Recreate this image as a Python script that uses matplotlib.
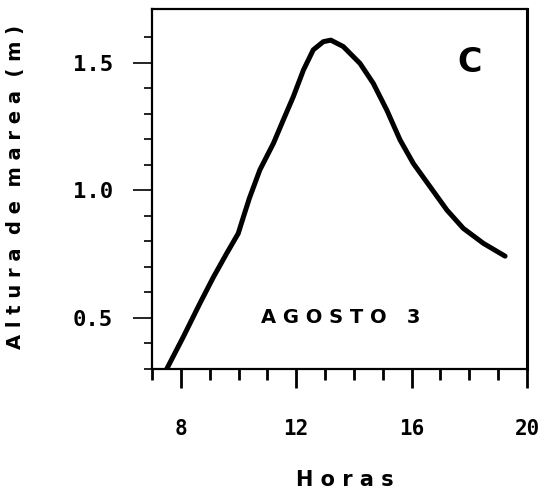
import matplotlib
matplotlib.use("Agg")
import matplotlib.pyplot as plt
import numpy as np

# marea - agosto 3
horas = [7.51, 8.09, 8.66, 9.13, 9.59, 9.99, 10.17, 10.38, 10.74, 11.21, 11.55,
         11.90, 12.25, 12.59, 12.94, 13.2, 13.63, 14.21, 14.67, 15.14, 15.60,
         16.06, 16.64, 17.22, 17.79, 18.49, 19.24]
altura = [0.30, 0.427, 0.557, 0.66, 0.753, 0.831, 0.896, 0.97, 1.08, 1.184, 1.275,
          1.367, 1.471, 1.55, 1.582, 1.588, 1.563, 1.497, 1.419, 1.314, 1.197,
          1.105, 1.014, 0.923, 0.851, 0.792, 0.742]
xticks = [8, 12, 16, 20]
yticks = [0.5, 1.0, 1.5]
ylabels = ["0.5", "1.0", "1.5"]

fig = plt.figure(figsize=(5.4, 4.94), dpi=100)
ax = fig.add_axes([152/540, 1-369/494, 375/540, 360/494])

ax.plot(horas, altura, color="black", lw=3.6, solid_capstyle="round",
        solid_joinstyle="round")

ax.set_xlim(7, 20)
ax.set_ylim(0.3, 1.71)

ax.set_xticks(xticks)
ax.set_xticklabels([str(t) for t in xticks], family="DejaVu Sans Mono",
                   fontsize=15, fontweight="bold")
ax.set_xticks(np.arange(7, 20, 1), minor=True)
ax.set_yticks(yticks)
ax.set_yticklabels(ylabels, family="DejaVu Sans Mono", fontsize=16,
                   fontweight="bold")
ax.set_yticks(np.arange(0.3, 1.65, 0.1), minor=True)

ax.tick_params(axis="x", which="major", direction="out", length=14, width=2, pad=22)
ax.tick_params(axis="x", which="minor", direction="out", length=8, width=2)
ax.tick_params(axis="y", which="major", direction="out", length=14, width=1.2, pad=14)
ax.tick_params(axis="y", which="minor", direction="out", length=6, width=1.2)

for s in ax.spines.values():
    s.set_linewidth(1.6)
ax.spines["right"].set_linewidth(2.2)

ax.text(18.0, 1.5, "C", fontsize=24, fontweight="bold", ha="center", va="center")
ax.text(13.55, 0.5, "A G O S T O   3", fontsize=14, fontweight="bold",
        ha="center", va="center")

fig.text(345/540, 1-480/494, "H o r a s", fontsize=15, fontweight="bold",
         ha="center", va="center")
fig.text(16/540, 1-187/494, "A l t u r a  d e  m a r e a  ( m )",
         fontsize=14, fontweight="bold", rotation=90, ha="center", va="center")

fig.savefig("out.png", dpi=100)
